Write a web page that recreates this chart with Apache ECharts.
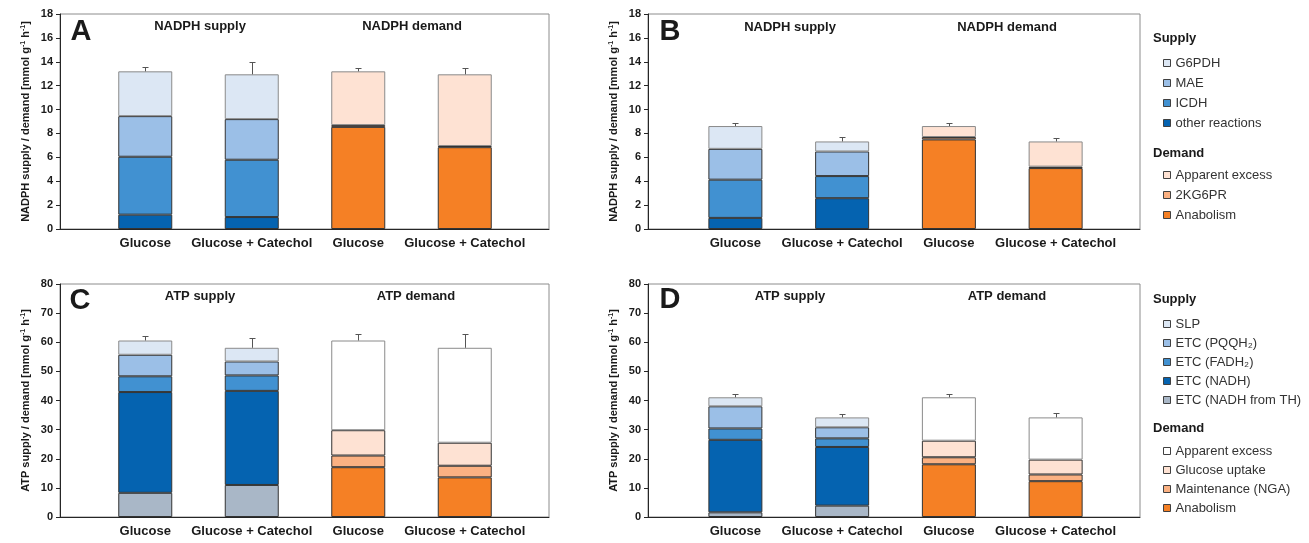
<!DOCTYPE html>
<html><head><meta charset="utf-8">
<script src="https://cdn.jsdelivr.net/npm/echarts@6/dist/echarts.min.js"></script>
<style>html,body{margin:0;padding:0;background:#fff}#c{width:1309px;height:543px}</style>
</head><body><div id="c"></div><script>
// ---------- data ----------
const categories = ['Glucose', 'Glucose + Catechol', 'Glucose', 'Glucose + Catechol'];

// Panel A – NADPH
const A_other = [1.2, 1.0];
const A_icdh = [4.85, 4.8];
const A_mae = [3.4, 3.4];
const A_g6pdh = [3.75, 3.75];
const A_anabolism = [8.55, 6.85];
const A_kg6pr = [0.15, 0.1];
const A_excess = [4.5, 6.0];
const A_supplyErr = [0.4, 1.0];
const A_demandErr = [0.3, 0.55];

// Panel B – NADPH
const B_other = [0.93, 2.58];
const B_icdh = [3.2, 1.85];
const B_mae = [2.58, 2.06];
const B_g6pdh = [1.91, 0.84];
const B_anabolism = [7.5, 5.1];
const B_kg6pr = [0.2, 0.12];
const B_excess = [0.92, 2.11];
const B_supplyErr = [0.23, 0.34];
const B_demandErr = [0.23, 0.26];

// Panel C – ATP
const C_th = [8.3, 11.0];
const C_nadh = [34.6, 32.3];
const C_fadh = [5.4, 5.3];
const C_pqq = [7.4, 4.8];
const C_slp = [4.9, 4.7];
const C_anabolism = [17.1, 13.6];
const C_maint = [4.0, 4.0];
const C_uptake = [8.7, 7.9];
const C_excess = [30.8, 32.6];
const C_supplyErr = [1.5, 3.5];
const C_demandErr = [2.1, 4.8];

// Panel D – ATP
const D_th = [1.6, 3.9];
const D_nadh = [24.9, 20.15];
const D_fadh = [3.9, 2.95];
const D_pqq = [7.6, 3.8];
const D_slp = [3.1, 3.4];
const D_anabolism = [18.1, 12.3];
const D_maint = [2.4, 2.3];
const D_uptake = [5.7, 5.1];
const D_excess = [14.9, 14.5];
const D_supplyErr = [1.0, 1.2];
const D_demandErr = [1.2, 1.5];

const yTicksNADPH = {min: 0, max: 18, interval: 2};
const yTicksATP = {min: 0, max: 80, interval: 10};

// ---------- styles ----------
const FONT = 'Arial, "Liberation Sans", sans-serif';
const COL = {
  c1: '#dce7f4', c2: '#9bbfe7', c3: '#4191d1', c4: '#0563b0', th: '#a9b7c7',
  anab: '#f58025', mid: '#fbb182', light: '#fee2d3', white: '#ffffff'
};
const DARK = '#333333', LIGHTB = '#8a8a8a';

const panels = [
  { frame: {left: 60, top: 14, width: 489, height: 215}, bars: {left: 92, width: 426}, y: yTicksNADPH,
    yName: 'NADPH supply / demand [mmol g{s|-1} h{s|-1}]',
    supply: [['other reactions', A_other, COL.c4, DARK], ['ICDH', A_icdh, COL.c3, DARK], ['MAE', A_mae, COL.c2, DARK], ['G6PDH', A_g6pdh, COL.c1, LIGHTB]],
    demand: [['Anabolism', A_anabolism, COL.anab, DARK], ['2KG6PR', A_kg6pr, COL.mid, DARK], ['Apparent excess', A_excess, COL.light, LIGHTB]],
    sErr: A_supplyErr, dErr: A_demandErr },
  { frame: {left: 648, top: 14, width: 492, height: 215}, bars: {left: 682, width: 427}, y: yTicksNADPH,
    yName: 'NADPH supply / demand [mmol g{s|-1} h{s|-1}]',
    supply: [['other reactions', B_other, COL.c4, DARK], ['ICDH', B_icdh, COL.c3, DARK], ['MAE', B_mae, COL.c2, DARK], ['G6PDH', B_g6pdh, COL.c1, LIGHTB]],
    demand: [['Anabolism', B_anabolism, COL.anab, DARK], ['2KG6PR', B_kg6pr, COL.mid, DARK], ['Apparent excess', B_excess, COL.light, LIGHTB]],
    sErr: B_supplyErr, dErr: B_demandErr },
  { frame: {left: 60, top: 284, width: 489, height: 233}, bars: {left: 92, width: 426}, y: yTicksATP,
    yName: 'ATP supply / demand [mmol g{s|-1} h{s|-1}]',
    supply: [['ETC (NADH from TH)', C_th, COL.th, DARK], ['ETC (NADH)', C_nadh, COL.c4, DARK], ['ETC (FADH₂)', C_fadh, COL.c3, DARK], ['ETC (PQQH₂)', C_pqq, COL.c2, DARK], ['SLP', C_slp, COL.c1, LIGHTB]],
    demand: [['Anabolism', C_anabolism, COL.anab, DARK], ['Maintenance (NGA)', C_maint, COL.mid, DARK], ['Glucose uptake', C_uptake, COL.light, DARK], ['Apparent excess', C_excess, COL.white, LIGHTB]],
    sErr: C_supplyErr, dErr: C_demandErr },
  { frame: {left: 648, top: 284, width: 492, height: 233}, bars: {left: 682, width: 427}, y: yTicksATP,
    yName: 'ATP supply / demand [mmol g{s|-1} h{s|-1}]',
    supply: [['ETC (NADH from TH)', D_th, COL.th, DARK], ['ETC (NADH)', D_nadh, COL.c4, DARK], ['ETC (FADH₂)', D_fadh, COL.c3, DARK], ['ETC (PQQH₂)', D_pqq, COL.c2, DARK], ['SLP', D_slp, COL.c1, LIGHTB]],
    demand: [['Anabolism', D_anabolism, COL.anab, DARK], ['Maintenance (NGA)', D_maint, COL.mid, DARK], ['Glucose uptake', D_uptake, COL.light, DARK], ['Apparent excess', D_excess, COL.white, LIGHTB]],
    sErr: D_supplyErr, dErr: D_demandErr }
];

const grid = [], xAxis = [], yAxis = [], series = [];
const sum = (list, i) => list.reduce((s, e) => s + e[1][i], 0);

panels.forEach((p, k) => {
  const gF = 2 * k, gB = 2 * k + 1;
  grid.push({left: p.frame.left, top: p.frame.top, width: p.frame.width, height: p.frame.height,
    show: true, borderColor: '#8c8c8c', borderWidth: 1, backgroundColor: 'transparent'});
  grid.push({left: p.bars.left, top: p.frame.top, width: p.bars.width, height: p.frame.height});
  xAxis.push({gridIndex: gF, type: 'category', data: [''],
    axisLine: {show: true, lineStyle: {color: '#262626', width: 1}}, axisTick: {show: false},
    axisLabel: {show: false}, splitLine: {show: false}});
  xAxis.push({gridIndex: gB, type: 'category', data: categories,
    axisLine: {show: false}, axisTick: {show: false}, splitLine: {show: false},
    axisLabel: {interval: 0, margin: 8, fontFamily: FONT, fontWeight: 'bold', fontSize: 13, color: '#1a1a1a'}});
  yAxis.push({gridIndex: gF, type: 'value', min: p.y.min, max: p.y.max, interval: p.y.interval,
    axisLine: {show: true, lineStyle: {color: '#262626', width: 1}},
    axisTick: {show: true, inside: false, length: 4, lineStyle: {color: '#262626'}},
    axisLabel: {margin: 7, fontFamily: FONT, fontWeight: 'bold', fontSize: 11, color: '#1a1a1a'},
    splitLine: {show: false},
    name: p.yName, nameLocation: 'middle', nameGap: 29, nameRotate: 90,
    nameTextStyle: {fontFamily: FONT, fontWeight: 'bold', fontSize: 11, color: '#1a1a1a',
      rich: {s: {fontFamily: FONT, fontWeight: 'bold', fontSize: 7, color: '#1a1a1a', verticalAlign: 'top', padding: [0, 0, 4, 0]}}}});
  yAxis.push({gridIndex: gB, type: 'value', min: p.y.min, max: p.y.max, show: false});

  p.supply.forEach(s => series.push({
    type: 'bar', name: s[0], xAxisIndex: gB, yAxisIndex: gB, stack: 'p' + k, barWidth: 54,
    itemStyle: {color: s[2], borderColor: s[3], borderWidth: 1},
    data: [s[1][0], s[1][1], '-', '-']
  }));
  p.demand.forEach(s => series.push({
    type: 'bar', name: s[0], xAxisIndex: gB, yAxisIndex: gB, stack: 'p' + k, barWidth: 54,
    itemStyle: {color: s[2], borderColor: s[3], borderWidth: 1},
    data: ['-', '-', s[1][0], s[1][1]]
  }));
  series.push({
    type: 'custom', name: 'err' + k, xAxisIndex: gB, yAxisIndex: gB, z: 5,
    encode: {x: 0, y: 1},
    data: [[0, sum(p.supply, 0), p.sErr[0]], [1, sum(p.supply, 1), p.sErr[1]],
           [2, sum(p.demand, 0), p.dErr[0]], [3, sum(p.demand, 1), p.dErr[1]]],
    renderItem: (params, api) => {
      const x = api.value(0), t = api.value(1), e = api.value(2);
      const a = api.coord([x, t]), b = api.coord([x, t + e]);
      const cx = Math.round(a[0]) + 0.5, by = Math.round(b[1]) + 0.5;
      return {type: 'group', children: [
        {type: 'line', shape: {x1: cx, y1: a[1], x2: cx, y2: by}, style: {stroke: '#555', lineWidth: 1}},
        {type: 'line', shape: {x1: cx - 3, y1: by, x2: cx + 3, y2: by}, style: {stroke: '#555', lineWidth: 1}}
      ]};
    }
  });
});

function legendItems(list) {
  return list.map(e => ({name: e[0], itemStyle: {color: e[1], borderColor: '#404040', borderWidth: 1}}));
}
const legBase = {orient: 'vertical', left: 1158, itemWidth: 7, itemHeight: 7, icon: 'rect', selectedMode: false,
  textStyle: {fontFamily: FONT, fontSize: 13, color: '#333333', lineHeight: 14}};
const legend = [
  Object.assign({}, legBase, {top: 51, itemGap: 6, data: legendItems([['G6PDH', COL.c1], ['MAE', COL.c2], ['ICDH', COL.c3], ['other reactions', COL.c4]])}),
  Object.assign({}, legBase, {top: 163, itemGap: 6, data: legendItems([['Apparent excess', COL.light], ['2KG6PR', COL.mid], ['Anabolism', COL.anab]])}),
  Object.assign({}, legBase, {top: 312, itemGap: 5, data: legendItems([['SLP', COL.c1], ['ETC (PQQH₂)', COL.c2], ['ETC (FADH₂)', COL.c3], ['ETC (NADH)', COL.c4], ['ETC (NADH from TH)', COL.th]])}),
  Object.assign({}, legBase, {top: 439, itemGap: 5, data: legendItems([['Apparent excess', COL.white], ['Glucose uptake', COL.light], ['Maintenance (NGA)', COL.mid], ['Anabolism', COL.anab]])})
];

function txt(t, x, y, size, align) {
  return {type: 'text', x: x, y: y, silent: true, z: 10,
    style: {text: t, fill: '#1a1a1a', font: 'bold ' + size + 'px ' + FONT, align: align || 'center', verticalAlign: 'middle'}};
}
const graphic = [
  txt('A', 81, 32, 29), txt('B', 670, 32, 29), txt('C', 80, 301, 29), txt('D', 670, 300, 29),
  txt('NADPH supply', 200, 26, 13), txt('NADPH demand', 412, 26, 13),
  txt('NADPH supply', 790, 27, 13), txt('NADPH demand', 1007, 27, 13),
  txt('ATP supply', 200, 296, 13), txt('ATP demand', 416, 296, 13),
  txt('ATP supply', 790, 296, 13), txt('ATP demand', 1007, 296, 13),
  txt('Supply', 1153, 38, 13, 'left'), txt('Demand', 1153, 153, 13, 'left'),
  txt('Supply', 1153, 299, 13, 'left'), txt('Demand', 1153, 428, 13, 'left')
];

const chart = echarts.init(document.getElementById('c'), null, {renderer: 'canvas'});
chart.setOption({animation: false, backgroundColor: '#ffffff', grid, xAxis, yAxis, series, legend, graphic});
</script></body></html>
